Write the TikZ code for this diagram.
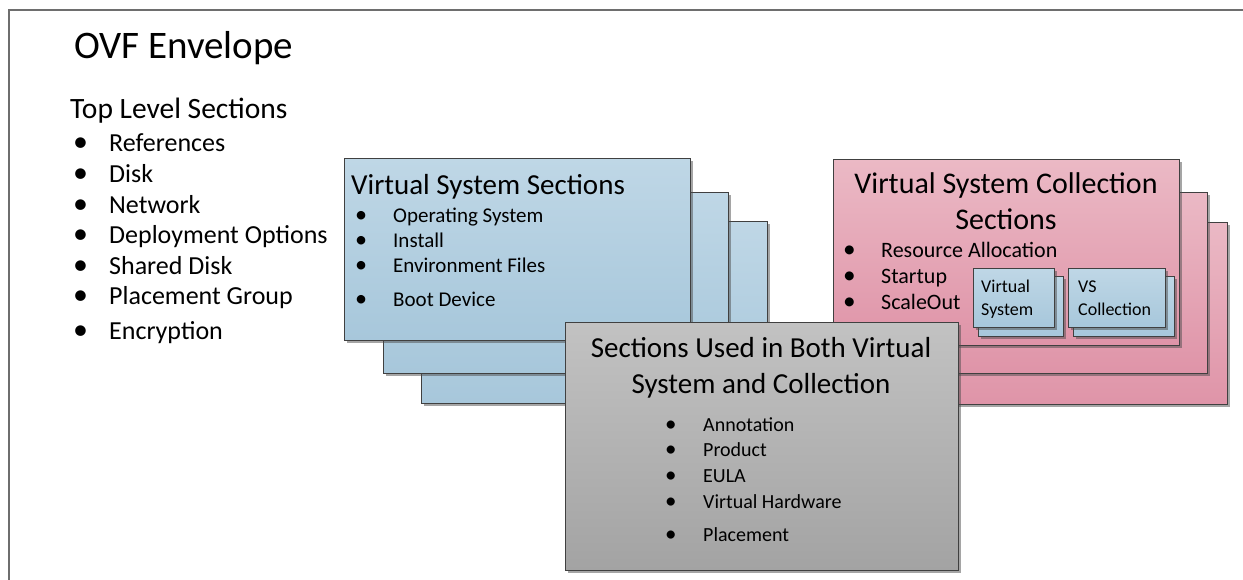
\documentclass[tikz,border=0pt]{standalone}
\usepackage{fontspec}
\setmainfont{Carlito}
\usetikzlibrary{shadows}

\definecolor{vsTop}{HTML}{BFD7E6}
\definecolor{vsBottom}{HTML}{A7C7DB}
\definecolor{vcTop}{HTML}{EBB9C5}
\definecolor{vcBottom}{HTML}{DF94A8}
\definecolor{bothTop}{HTML}{C2C2C2}
\definecolor{bothBottom}{HTML}{A3A3A3}
\definecolor{frameGray}{HTML}{6E6E6E}

\newcommand{\secitem}[1][38pt]{\makebox[#1][l]{\scalebox{1.15}{\textbullet}}}
\newcommand{\fsize}[2]{\fontsize{#1}{#2}\selectfont}

\begin{document}
\begin{tikzpicture}[x=1pt, y=-1pt,
        secbox/.style={rectangle, draw=black!75, line width=0.9pt, inner sep=0pt, anchor=north west,
            drop shadow={shadow xshift=2.5pt, shadow yshift=-2.5pt, opacity=0.5, fill=black!70}},
        vsbox/.style={secbox, top color=vsTop, bottom color=vsBottom},
        vcbox/.style={secbox, top color=vcTop, bottom color=vcBottom},
        bothbox/.style={secbox, top color=bothTop, bottom color=bothBottom},
        plaintext/.style={inner sep=0pt, anchor=base west, align=flush left},
        midtext/.style={inner sep=0pt, anchor=base, align=flush center}]
    \useasboundingbox (0, 0) rectangle (1243, 580);

    % envelope frame
    \draw[frameGray, line width=1.6pt] (9, 580) -- (9, 10) -- (1243, 10);

    \node[plaintext, font=\fsize{39}{47}] (envtitle) at (74, 59) {OVF Envelope};
    \node[plaintext, font=\fsize{29.5}{35}] (toplevel) at (70, 119) {Top Level Sections};
    \node[plaintext, text width=340pt, font=\fsize{26}{30.6}] (toplist) at (73, 152) {%
        \secitem[36pt]References\\
        \secitem[36pt]Disk\\
        \secitem[36pt]Network\\
        \secitem[36pt]Deployment Options\\
        \secitem[36pt]Shared Disk\\
        \secitem[36pt]Placement Group\\[4pt]
        \secitem[36pt]Encryption};

    % virtual system sections
    \node[vsbox, minimum width=346, minimum height=182] (vs3) at (421, 221) {};
    \node[vsbox, minimum width=345, minimum height=181] (vs2) at (383, 192) {};
    \node[vsbox, minimum width=346, minimum height=182] (vs1) at (344, 158) {};
    \node[plaintext, font=\fsize{29}{35}] (vstitle) at (351, 195) {Virtual System Sections};
    \node[plaintext, text width=320pt, font=\fsize{21}{25}] (vslist) at (355, 223) {%
        \secitem Operating System\\
        \secitem Install\\
        \secitem Environment Files\\[9pt]
        \secitem Boot Device};

    % virtual system collection sections
    \node[vcbox, minimum width=346, minimum height=182] (vc3) at (881, 222) {};
    \node[vcbox, minimum width=346, minimum height=181] (vc2) at (861, 192) {};
    \node[vcbox, minimum width=346, minimum height=186] (vc1) at (833, 159) {};
    \node[midtext, text width=346pt, font=\fsize{30}{36}] (vctitle) at (1006, 194) {Virtual System Collection\\Sections};
    \node[plaintext, text width=320pt, font=\fsize{22}{26}] (vclist) at (843, 258) {%
        \secitem Resource Allocation\\
        \secitem Startup\\
        \secitem ScaleOut};

    \node[vsbox, minimum width=85, minimum height=60] (vsysback) at (978, 276) {};
    \node[vsbox, minimum width=81, minimum height=59] (vsys) at (973, 268) {};
    \node[plaintext, text width=80pt, font=\fsize{18}{24}] (vsystext) at (981, 292) {Virtual\\System};
    \node[vsbox, minimum width=101, minimum height=60] (vscolback) at (1073, 276) {};
    \node[vsbox, minimum width=97, minimum height=59] (vscol) at (1068, 268) {};
    \node[plaintext, text width=95pt, font=\fsize{18}{24}] (vscoltext) at (1078, 292) {VS\\Collection};

    % sections used in both
    \node[bothbox, minimum width=393, minimum height=248] (both) at (565, 322) {};
    \node[midtext, text width=393pt, font=\fsize{29}{36}] (bothtitle) at (761, 357) {Sections Used in Both Virtual\\System and Collection};
    \node[plaintext, text width=280pt, font=\fsize{20}{25.7}] (bothlist) at (665, 431) {%
        \secitem Annotation\\
        \secitem Product\\
        \secitem EULA\\
        \secitem Virtual Hardware\\[8pt]
        \secitem Placement};
\end{tikzpicture}
\end{document}
